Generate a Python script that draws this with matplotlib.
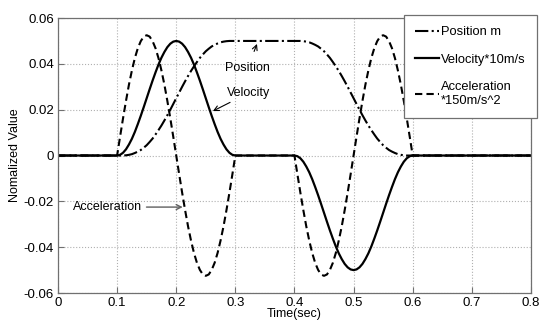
import matplotlib
matplotlib.use('Agg')
import matplotlib.pyplot as plt
import numpy as np

plt.rcParams['font.family'] = ['Liberation Sans', 'DejaVu Sans']
plt.rcParams['axes.unicode_minus'] = False

# time samples (sec): start, first move 0.1-0.3, second move 0.4-0.6, end
time = np.concatenate([[0.0], np.linspace(0.1, 0.3, 41),
                       np.linspace(0.4, 0.6, 41), [0.8]])

# values (one list per move, every 0.005 s)
pos_move1 = [
    0, 0.0000, 0.0000, 0.0001, 0.0003, 0.0006, 0.0011, 0.0017, 0.0024, 0.0034,
    0.0045, 0.0059, 0.0074, 0.0092, 0.0111, 0.0131, 0.0153, 0.0176, 0.0200, 0.0225,
    0.0250, 0.0275, 0.0300, 0.0324, 0.0347, 0.0369, 0.0389, 0.0408, 0.0426, 0.0441,
    0.0455, 0.0466, 0.0476, 0.0483, 0.0489, 0.0494, 0.0497, 0.0499, 0.0500, 0.0500,
    0.0500,
]
pos_move2 = [
    0.0500, 0.0500, 0.0500, 0.0499, 0.0497, 0.0494, 0.0489, 0.0483, 0.0476, 0.0466,
    0.0455, 0.0441, 0.0426, 0.0408, 0.0389, 0.0369, 0.0347, 0.0324, 0.0300, 0.0275,
    0.0250, 0.0225, 0.0200, 0.0176, 0.0153, 0.0131, 0.0111, 0.0092, 0.0074, 0.0059,
    0.0045, 0.0034, 0.0024, 0.0017, 0.0011, 0.0006, 0.0003, 0.0001, 0.0000, 0.0000,
    0,
]
vel_move1 = [
    0, 0.0003, 0.0012, 0.0027, 0.0048, 0.0073, 0.0103, 0.0137, 0.0173, 0.0211,
    0.0250, 0.0289, 0.0327, 0.0363, 0.0397, 0.0427, 0.0452, 0.0473, 0.0488, 0.0497,
    0.0500, 0.0497, 0.0488, 0.0473, 0.0452, 0.0427, 0.0397, 0.0363, 0.0327, 0.0289,
    0.0250, 0.0211, 0.0173, 0.0137, 0.0103, 0.0073, 0.0048, 0.0027, 0.0012, 0.0003,
    0,
]
vel_move2 = [
    0, -0.0003, -0.0012, -0.0027, -0.0048, -0.0073, -0.0103, -0.0137, -0.0173, -0.0211,
    -0.0250, -0.0289, -0.0327, -0.0363, -0.0397, -0.0427, -0.0452, -0.0473, -0.0488, -0.0497,
    -0.0500, -0.0497, -0.0488, -0.0473, -0.0452, -0.0427, -0.0397, -0.0363, -0.0327, -0.0289,
    -0.0250, -0.0211, -0.0173, -0.0137, -0.0103, -0.0073, -0.0048, -0.0027, -0.0012, -0.0003,
    0,
]
acc_move1 = [
    0, 0.0082, 0.0162, 0.0238, 0.0309, 0.0371, 0.0425, 0.0468, 0.0499, 0.0519,
    0.0525, 0.0519, 0.0499, 0.0468, 0.0425, 0.0371, 0.0309, 0.0238, 0.0162, 0.0082,
    0, -0.0082, -0.0162, -0.0238, -0.0309, -0.0371, -0.0425, -0.0468, -0.0499, -0.0519,
    -0.0525, -0.0519, -0.0499, -0.0468, -0.0425, -0.0371, -0.0309, -0.0238, -0.0162, -0.0082,
    0,
]
acc_move2 = [
    0, -0.0082, -0.0162, -0.0238, -0.0309, -0.0371, -0.0425, -0.0468, -0.0499, -0.0519,
    -0.0525, -0.0519, -0.0499, -0.0468, -0.0425, -0.0371, -0.0309, -0.0238, -0.0162, -0.0082,
    0, 0.0082, 0.0162, 0.0238, 0.0309, 0.0371, 0.0425, 0.0468, 0.0499, 0.0519,
    0.0525, 0.0519, 0.0499, 0.0468, 0.0425, 0.0371, 0.0309, 0.0238, 0.0162, 0.0082,
    0,
]

position = [0] + pos_move1 + pos_move2 + [0]
velocity = [0] + vel_move1 + vel_move2 + [0]
acceleration = [0] + acc_move1 + acc_move2 + [0]

xticks = [0, 0.1, 0.2, 0.3, 0.4, 0.5, 0.6, 0.7, 0.8]
xtick_labels = ['0', '0.1', '0.2', '0.3', '0.4', '0.5', '0.6', '0.7', '0.8']
yticks = [-0.06, -0.04, -0.02, 0, 0.02, 0.04, 0.06]
ytick_labels = ['-0.06', '-0.04', '-0.02', '0', '0.02', '0.04', '0.06']

fig = plt.figure(figsize=(5.39, 3.22), dpi=100)
ax = fig.add_axes([0.1076, 0.090, 0.8774, 0.854])

ax.plot(time, position, color='black', ls='-.', lw=1.5, label='Position m')
ax.plot(time, velocity, color='black', ls='-', lw=1.6, label='Velocity*10m/s')
ax.plot(time, acceleration, color='black', ls=(0, (3.5, 2)), lw=1.5,
        label='Acceleration\n*150m/s^2')

ax.set_xlim(0, 0.8)
ax.set_ylim(-0.06, 0.06)
ax.set_xticks(xticks)
ax.set_xticklabels(xtick_labels)
ax.set_yticks(yticks)
ax.set_yticklabels(ytick_labels)
ax.tick_params(direction='in', length=4, labelsize=9.5, color='#707070', pad=3)
ax.grid(True, ls=':', color='#b0b0b0', lw=0.8)
for s in ax.spines.values():
    s.set_color('#707070')
    s.set_linewidth(0.9)

ax.set_xlabel('Time(sec)', fontsize=9, labelpad=-1)
ax.set_ylabel('Nomalized Value', fontsize=9, labelpad=2)

# annotations
ax.annotate('Position', xy=(0.3366, 0.0487), xytext=(0.321, 0.0382),
            ha='center', va='center', fontsize=9,
            arrowprops=dict(arrowstyle='->', color='black', lw=0.8,
                            shrinkA=6, shrinkB=0))
ax.annotate('Velocity', xy=(0.262, 0.0194), xytext=(0.286, 0.0273),
            ha='left', va='center', fontsize=9,
            arrowprops=dict(arrowstyle='->', color='black', lw=0.8,
                            shrinkA=1, shrinkB=0))
ax.annotate('Acceleration', xy=(0.211, -0.0225), xytext=(0.0257, -0.0225),
            ha='left', va='center', fontsize=9,
            arrowprops=dict(arrowstyle='->', color='#606060', lw=1.0,
                            shrinkA=1, shrinkB=0))

leg = ax.legend(loc='upper right', bbox_to_anchor=(0.996, 0.953),
                bbox_transform=fig.transFigure, fontsize=9.3, fancybox=False,
                framealpha=1, edgecolor='#707070', handlelength=1.9,
                handletextpad=0.15, labelspacing=1.2, borderpad=0.85,
                borderaxespad=0)
leg.get_frame().set_linewidth(0.9)

fig.savefig('out.png', dpi=100)
